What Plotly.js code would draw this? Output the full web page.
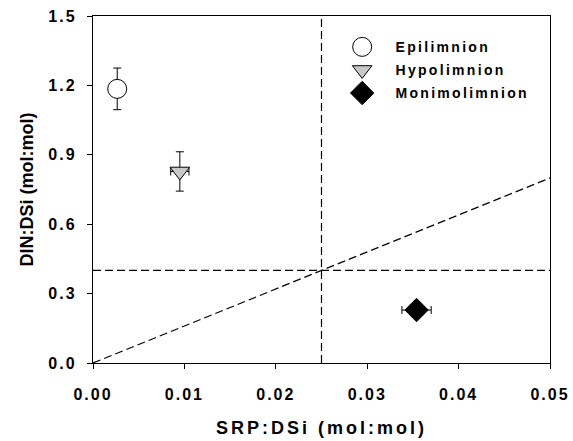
<!DOCTYPE html>
<html><head><meta charset="utf-8">
<script src="https://cdn.plot.ly/plotly-3.0.1.min.js"></script>
<style>
body{margin:0;background:#fff}#chart{width:573px;height:441px}
#chart .xtick text,#chart .ytick text{letter-spacing:2px}
#chart .g-xtitle text{letter-spacing:3px}
#chart .textpoint text{letter-spacing:2.3px}
</style>
</head><body><div id="chart"></div>
<script>
const seriesNames = ["Epilimnion", "Hypolimnion", "Monimolimnion"];
const srpDsi = [0.00265, 0.0095, 0.0354];
const srpDsiErr = [0, 0.001, 0.0016];
const dinDsi = [1.185, 0.828, 0.229];
const dinDsiErr = [0.09, 0.085, 0];
const xTicks = [0, 0.01, 0.02, 0.03, 0.04, 0.05];
const yTicks = [0, 0.3, 0.6, 0.9, 1.2, 1.5];
const refSRP = 0.025;
const refDIN = 0.4;
const redfieldLine = {x: [0, 0.05], y: [0, 0.8]};

const symbols = ["circle", "triangle-down", "diamond"];
const fills = ["#ffffff", "#c8c8c8", "#000000"];
const sizes = [19, 17, 18];
// legend placement in plot-area fractions
const legX = 0.589, legTextX = 0.662, legY0 = 0.911, legDy = 0.0665;

const fam = "Liberation Sans, Arial, sans-serif";
const dash = "8px,4px";
const traces = [];
traces.push({x: redfieldLine.x, y: redfieldLine.y, mode: "lines", showlegend: false,
  line: {color: "#000", width: 1.2, dash: dash}, hoverinfo: "skip"});
for (let i = 0; i < seriesNames.length; i++) {
  traces.push({
    x: [srpDsi[i]], y: [dinDsi[i]], mode: "markers", name: seriesNames[i], showlegend: false,
    marker: {symbol: symbols[i], size: sizes[i], color: fills[i], line: {color: "#000", width: 1}},
    error_y: {type: "data", array: [dinDsiErr[i]], visible: dinDsiErr[i] > 0, color: "#000", thickness: 1, width: 4},
    error_x: {type: "data", array: [srpDsiErr[i]], visible: srpDsiErr[i] > 0, color: "#000", thickness: 1, width: 4}
  });
  // legend key
  traces.push({
    x: [legX], y: [legY0 - i * legDy], xaxis: "x2", yaxis: "y2", mode: "markers", showlegend: false, hoverinfo: "skip",
    marker: {symbol: symbols[i], size: sizes[i], color: fills[i], line: {color: "#000", width: 1}}
  });
  traces.push({
    x: [legTextX], y: [legY0 - i * legDy - 0.004], xaxis: "x2", yaxis: "y2", mode: "text", text: [seriesNames[i]],
    textposition: "middle right", showlegend: false, hoverinfo: "skip",
    textfont: {family: fam, size: 14, weight: "bold", color: "#000"}
  });
}

const layout = {
  width: 573, height: 441,
  margin: {l: 93, r: 23, t: 16, b: 78},
  paper_bgcolor: "#fff", plot_bgcolor: "#fff",
  font: {family: fam, color: "#000", size: 14, weight: "bold"},
  xaxis: {range: [0, 0.05], tickvals: xTicks, ticktext: xTicks.map(v => v.toFixed(2)),
    ticks: "outside", ticklen: 5, tickwidth: 1, tickcolor: "#000", ticklabelstandoff: 12,
    showline: true, linecolor: "#000", linewidth: 1.2, mirror: true, showgrid: false, zeroline: false,
    tickfont: {family: fam, size: 16, weight: "bold"},
    title: {text: "SRP:DSi (mol:mol)", font: {family: fam, size: 18, weight: "bold"}, standoff: 19}},
  yaxis: {range: [0, 1.5], tickvals: yTicks, ticktext: yTicks.map(v => v.toFixed(1)),
    ticks: "outside", ticklen: 5, tickwidth: 1, tickcolor: "#000", ticklabelstandoff: 7,
    showline: true, linecolor: "#000", linewidth: 1.2, mirror: true, showgrid: false, zeroline: false,
    tickfont: {family: fam, size: 16, weight: "bold"},
    title: {text: "DIN:DSi (mol:mol)", font: {family: fam, size: 18, weight: "bold"}, standoff: 16}},
  xaxis2: {overlaying: "x", range: [0, 1], visible: false, fixedrange: true},
  yaxis2: {overlaying: "y", range: [0, 1], visible: false, fixedrange: true},
  shapes: [
    {type: "line", xref: "x", yref: "y", x0: refSRP, x1: refSRP, y0: 0, y1: 1.5, line: {color: "#000", width: 1.2, dash: dash}},
    {type: "line", xref: "x", yref: "y", x0: 0, x1: 0.05, y0: refDIN, y1: refDIN, line: {color: "#000", width: 1.2, dash: dash}}
  ],
  showlegend: false
};
Plotly.newPlot("chart", traces, layout, {displayModeBar: false, staticPlot: true});
</script></body></html>
